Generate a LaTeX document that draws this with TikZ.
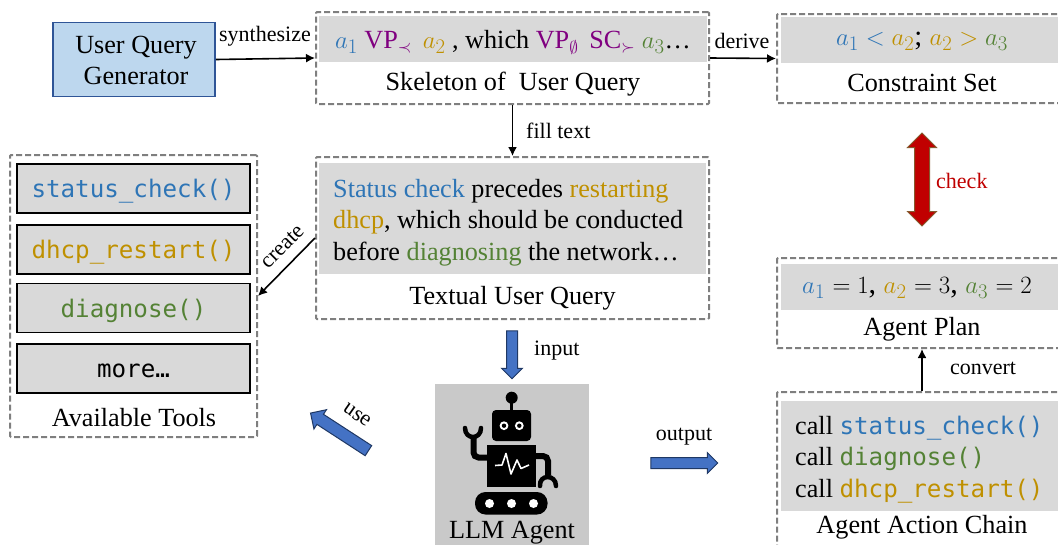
\documentclass[tikz,border=0pt]{standalone}
\usepackage{fontspec}
\usepackage{xcolor}
\setmainfont{Liberation Serif}
\setmonofont{DejaVu Sans Mono}
\usetikzlibrary{shapes.arrows,arrows.meta}
\definecolor{tblue}{HTML}{2E75B6}
\definecolor{tgold}{HTML}{BF9000}
\definecolor{tgreen}{HTML}{548235}
\definecolor{tpurple}{HTML}{800080}
\definecolor{tred}{HTML}{C00000}
\definecolor{dashgray}{HTML}{7F7F7F}
\definecolor{fillgray}{HTML}{D9D9D9}
\definecolor{genfill}{HTML}{BDD7EE}
\definecolor{genline}{HTML}{2F5597}
\definecolor{blockfill}{HTML}{4472C4}
\definecolor{blockline}{HTML}{1F3864}
\newcommand{\ablue}[1]{\textcolor{tblue}{#1}}
\newcommand{\agold}[1]{\textcolor{tgold}{#1}}
\newcommand{\agreen}[1]{\textcolor{tgreen}{#1}}
\newcommand{\apurple}[1]{\textcolor{tpurple}{#1}}
\newcommand{\avar}[1]{{\fontsize{28}{31}\selectfont$a_{#1}$}}
\newcommand{\tooltxt}[1]{\smash{\raisebox{-9pt}{#1}}}
\tikzset{
  mainfont/.style={font=\fontsize{26.2}{31.5}\selectfont},
  edgefont/.style={font=\fontsize{22}{24}\selectfont},
  codefont/.style={font=\fontsize{24.2}{31}\ttfamily},
  dashbox/.style={draw=dashgray,line width=2pt,dash pattern=on 6pt off 3pt,rounded corners=1pt,inner sep=0pt},
  grayfill/.style={fill=fillgray,inner sep=0pt,mainfont},
  toolbox/.style={draw=black,line width=1.5pt,fill=fillgray,minimum width=233,minimum height=49,inner sep=0pt,codefont},
  blockarrow/.style={single arrow,draw=blockline,line width=1pt,fill=blockfill,inner xsep=0pt,inner ysep=5pt,single arrow head extend=5pt,single arrow head indent=0pt},
  thinarrow/.style={-{Latex[length=9pt,width=9pt]},line width=1.6pt},
}
\begin{document}
\begin{tikzpicture}[x=1pt,y=-1pt]
\clip (0,0) rectangle (1058,544);
% top row
\node[draw=genline,line width=1.8pt,fill=genfill,minimum width=162,minimum height=74,inner sep=0pt,align=center,mainfont] (genbox) at (134,59.5) {};
\node[align=center,mainfont] (gentxt) at (136,60.5) {User Query\\Generator};
\node[dashbox,minimum width=393,minimum height=92] (skeleton) at (512.5,58) {};
\node[grayfill,minimum width=388,minimum height=46] (skelfill) at (513,39) {};
\node[mainfont] (skeltxt) at (513,42.5) {\ablue{\avar{1}} \apurple{VP$_{\prec}$}\ \,\agold{\avar{2}} , which \apurple{VP$_{\emptyset}$}\ \,\apurple{SC$_{\succ}$} \agreen{\avar{3}}…};
\node[mainfont] (skelcap) at (513,84) {Skeleton of\ \ User Query};
\node[dashbox,minimum width=290,minimum height=89] (constraint) at (922,58.5) {};
\node[grayfill,minimum width=282,minimum height=46] (consfill) at (922,40) {};
\node[font=\fontsize{28.6}{31}\selectfont] (constxt) at (922,41) {\ablue{$a_1 < {}$}\agold{$a_2$}; \agold{$a_2 > {}$}\agreen{$a_3$}};
\node[mainfont] (conscap) at (922,82.5) {Constraint Set};
% middle
\node[dashbox,minimum width=393,minimum height=162] (textual) at (512.5,238) {};
\node[grayfill,minimum width=387,minimum height=111] (textfill) at (512.5,218.5) {};
\node[mainfont,anchor=west,inner sep=0pt,align=left] (texttxt) at (333,222.5) {\ablue{Status check} precedes \agold{restarting}\\\agold{dhcp}, which should be conducted\\before \agreen{diagnosing} the network…};
\node[mainfont] (textcap) at (512.5,298.5) {Textual User Query};
% tools
\node[dashbox,minimum width=247,minimum height=282] (tools) at (133.5,296) {};
\node[toolbox] (toolone) at (133.5,188.5) {\tooltxt{\ablue{status\_check()}}};
\node[toolbox] (tooltwo) at (133.5,249.5) {\tooltxt{\agold{dhcp\_restart()}}};
\node[toolbox] (toolthree) at (133.5,308) {\tooltxt{\agreen{diagnose()}}};
\node[toolbox] (toolfour) at (133.5,368.5) {\tooltxt{more…}};
\node[mainfont] (toolcap) at (134,418) {Available Tools};
% right column
\node[dashbox,minimum width=290,minimum height=90] (plan) at (922,303) {};
\node[grayfill,minimum width=282,minimum height=46] (planfill) at (922,287) {};
\node[font=\fontsize{30}{31}\selectfont] (plantxt) at (917,288) {\ablue{$a_1$} $=1$, \agold{$a_2$} $=3$, \agreen{$a_3$} $=2$};
\node[mainfont] (plancap) at (922,329) {Agent Plan};
\node[dashbox,minimum width=290,minimum height=168] (action) at (922,476) {};
\node[grayfill,minimum width=282,minimum height=110] (actfill) at (922,456) {};
\node[mainfont,anchor=west,inner sep=0pt,align=left] (acttxt) at (795,459.5) {call {\fontsize{24.2}{31}\ttfamily\ablue{status\_check()}}\\call {\fontsize{24.2}{31}\ttfamily\agreen{diagnose()}}\\call {\fontsize{24.2}{31}\ttfamily\agold{dhcp\_restart()}}};
\node[mainfont] (actcap) at (922,527.5) {Agent Action Chain};
% agent
\node[fill=black!21,minimum width=154,minimum height=170,inner sep=0pt] (agent) at (512,469) {};
\fill (511.7,397.7) circle (6);
\draw[line width=2.5pt] (511.7,400) -- (511.7,412);
\fill[rounded corners=4pt] (492,410) rectangle (531,441);
\fill[white] (504,425.7) circle (4.4) (519.3,425.7) circle (4.4);
\fill (504,425.7) circle (2.2) (519.3,425.7) circle (2.2);
\fill (487,445) rectangle (536,487);
\draw[white,line width=1.6pt,line join=round] (495,465.5) -- (502,465) -- (506,453.5) -- (511,474) -- (517,460) -- (521,468.5) -- (529,465);
\draw[line width=6pt,rounded corners=5pt] (488,457.5) -- (473.5,457.5) -- (473.5,436);
\draw[line width=4.5pt,line cap=round] (465,428) .. controls (465,440) and (481,440) .. (481,428);
\draw[line width=6pt,rounded corners=5pt] (535,456) -- (548,456) -- (548,475);
\draw[line width=4.5pt,line cap=round] (540,486) .. controls (539,474) and (556,474) .. (556,486);
\fill[rounded corners=10.5pt] (475,492) rectangle (547.5,514.5);
\fill[white] (489.5,503.5) circle (4.5) (511.5,503.5) circle (4.5) (533.5,503.5) circle (4.5);
\node[mainfont] (agentcap) at (512,532.5) {LLM Agent};
% connectors
\draw[thinarrow] (genbox.east) -- (skeleton.west);
\node[edgefont] (synthlabel) at (265,36) {synthesize};
\draw[thinarrow] (skeleton.east) -- (constraint.west);
\node[edgefont] (derivelabel) at (742,41) {derive};
\draw[thinarrow] (skeleton.south) -- (textual.north);
\node[edgefont,anchor=west,inner sep=0pt] (filllabel) at (526,131) {fill text};
\draw[thinarrow] (textual.west) -- (tools.east);
\node[edgefont,rotate=45,inner sep=0pt] (createlabel) at (283,247) {create};
\draw[thinarrow] (action.north) -- (plan.south);
\node[edgefont] (convertlabel) at (983,368) {convert};
% block arrows
\node[blockarrow,rotate=270,minimum height=48,minimum width=20] (inputarrow) at (512,352) {};
\node[edgefont,anchor=west,inner sep=0pt] (inputlabel) at (534,351) {input};
\node[blockarrow,minimum height=67,minimum width=20] (outputarrow) at (681.5,463) {};
\node[edgefont] (outputlabel) at (684,437) {output};
\node[blockarrow,rotate=147,minimum height=69,minimum width=22,inner ysep=5.5pt,single arrow head extend=5.5pt] (usearrow) at (342,433.5) {};
\node[edgefont,rotate=-35,inner sep=0pt] (uselabel) at (357,415) {use};
\node[double arrow,draw=brown!70!black,line width=1pt,fill=tred,rotate=90,inner xsep=0pt,inner ysep=7pt,minimum height=93,minimum width=28,double arrow head extend=7pt,double arrow head indent=0pt] (checkarrow) at (922,179.5) {};
\node[edgefont,text=tred,anchor=west,inner sep=0pt] (checklabel) at (936,181) {check};
\end{tikzpicture}
\end{document}
